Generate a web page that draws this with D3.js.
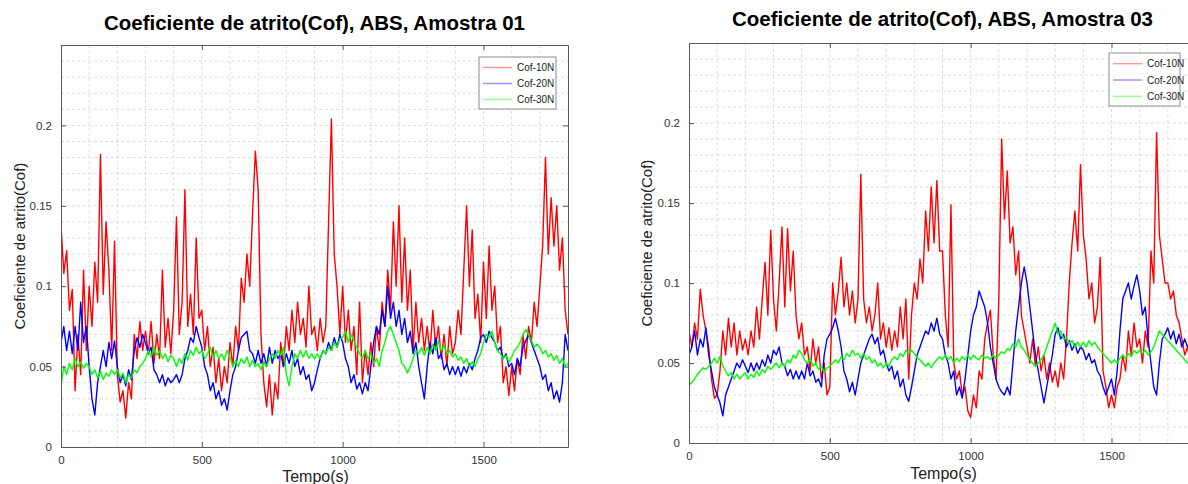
<!DOCTYPE html>
<html>
<head>
<meta charset="utf-8">
<script src="https://cdn.jsdelivr.net/npm/d3@7"></script>
<style>
  html, body { margin: 0; padding: 0; background: #fff; }
  svg { display: block; font-family: "Liberation Sans", Arial, Helvetica, sans-serif; }
</style>
</head>
<body>
<svg id="chart" width="1188" height="484"></svg>
<script>
// ---------------- DATA ----------------
const TIME_STEP = 10;                 // seconds between samples
const X_DOMAIN = [0, 1800];
const Y_DOMAIN = [0, 0.25];
const xTickValues = [0, 500, 1000, 1500];
const yTickValues = [0, 0.05, 0.1, 0.15, 0.2];
const seriesNames = ["Cof-10N", "Cof-20N", "Cof-30N"];
const panelTitles = ["Coeficiente de atrito(Cof), ABS, Amostra 01",
                     "Coeficiente de atrito(Cof), ABS, Amostra 03"];
const xLabel = "Tempo(s)";
const yLabel = "Coeficiente de atrito(Cof)";

// Amostra 01
const s01_10N = [
 0.138,0.108,0.122,0.085,0.098,0.035,0.07,0.045,0.11,0.06,
 0.1,0.075,0.115,0.09,0.182,0.095,0.14,0.11,0.06,0.128,
 0.045,0.028,0.035,0.018,0.04,0.03,0.07,0.055,0.078,0.06,
 0.072,0.058,0.078,0.052,0.07,0.055,0.11,0.062,0.08,0.058,
 0.085,0.143,0.07,0.09,0.16,0.075,0.095,0.07,0.13,0.08,
 0.085,0.06,0.075,0.05,0.062,0.04,0.055,0.035,0.05,0.04,
 0.065,0.05,0.075,0.06,0.105,0.09,0.12,0.1,0.145,0.184,
 0.16,0.07,0.04,0.025,0.045,0.02,0.04,0.03,0.065,0.05,
 0.075,0.06,0.085,0.065,0.09,0.07,0.08,0.062,0.1,0.07,
 0.075,0.06,0.08,0.065,0.075,0.14,0.204,0.12,0.1,0.07,
 0.1,0.065,0.085,0.06,0.075,0.045,0.09,0.04,0.06,0.045,
 0.065,0.05,0.075,0.06,0.09,0.075,0.11,0.085,0.14,0.1,
 0.15,0.09,0.13,0.085,0.11,0.06,0.09,0.065,0.08,0.06,
 0.075,0.058,0.085,0.062,0.075,0.055,0.07,0.05,0.075,0.058,
 0.065,0.085,0.07,0.11,0.15,0.1,0.135,0.08,0.095,0.065,
 0.115,0.08,0.125,0.085,0.1,0.065,0.075,0.04,0.05,0.032,
 0.05,0.035,0.055,0.045,0.07,0.055,0.075,0.065,0.09,0.075,
 0.1,0.125,0.18,0.12,0.155,0.125,0.15,0.11,0.13,0.085,0.07
];
const s01_20N = [
 0.065,0.075,0.06,0.072,0.058,0.075,0.06,0.09,0.065,0.075,
 0.05,0.03,0.02,0.04,0.05,0.06,0.05,0.065,0.055,0.066,
 0.05,0.04,0.045,0.038,0.048,0.042,0.06,0.068,0.062,0.07,
 0.065,0.058,0.062,0.048,0.045,0.04,0.045,0.038,0.043,0.04,
 0.042,0.045,0.04,0.045,0.055,0.06,0.068,0.065,0.075,0.068,
 0.062,0.05,0.045,0.035,0.04,0.03,0.035,0.026,0.03,0.023,
 0.035,0.045,0.05,0.06,0.068,0.07,0.072,0.06,0.058,0.052,
 0.06,0.052,0.058,0.05,0.062,0.052,0.06,0.055,0.058,0.05,
 0.058,0.052,0.06,0.05,0.055,0.045,0.05,0.042,0.045,0.035,
 0.04,0.048,0.055,0.06,0.058,0.065,0.06,0.068,0.062,0.07,
 0.065,0.055,0.05,0.04,0.045,0.036,0.04,0.033,0.04,0.035,
 0.05,0.065,0.075,0.07,0.085,0.075,0.1,0.08,0.09,0.075,
 0.085,0.07,0.08,0.065,0.072,0.058,0.065,0.05,0.04,0.03,
 0.05,0.065,0.058,0.068,0.055,0.058,0.048,0.052,0.045,0.05,
 0.045,0.05,0.044,0.05,0.046,0.052,0.048,0.055,0.06,0.068,
 0.07,0.065,0.072,0.068,0.065,0.06,0.062,0.055,0.058,0.05,
 0.052,0.045,0.055,0.05,0.062,0.066,0.07,0.065,0.06,0.055,
 0.05,0.042,0.045,0.035,0.04,0.03,0.035,0.028,0.04,0.07,0.06
];
const s01_30N = [
 0.038,0.05,0.045,0.052,0.048,0.055,0.05,0.053,0.049,0.052,
 0.05,0.045,0.048,0.043,0.047,0.042,0.046,0.044,0.048,0.045,
 0.048,0.043,0.046,0.04,0.045,0.043,0.048,0.046,0.05,0.052,
 0.055,0.06,0.056,0.062,0.057,0.06,0.055,0.058,0.053,0.057,
 0.055,0.05,0.055,0.052,0.058,0.054,0.06,0.057,0.062,0.058,
 0.06,0.055,0.058,0.062,0.056,0.06,0.055,0.058,0.054,0.06,
 0.056,0.05,0.054,0.05,0.055,0.052,0.056,0.05,0.054,0.05,
 0.052,0.048,0.053,0.05,0.055,0.058,0.055,0.06,0.057,0.062,
 0.045,0.038,0.05,0.058,0.055,0.06,0.056,0.06,0.055,0.058,
 0.055,0.058,0.055,0.06,0.058,0.062,0.06,0.065,0.062,0.067,
 0.068,0.072,0.065,0.07,0.066,0.062,0.058,0.055,0.06,0.055,
 0.058,0.052,0.055,0.05,0.06,0.065,0.072,0.075,0.07,0.065,
 0.06,0.052,0.05,0.046,0.05,0.055,0.06,0.058,0.062,0.057,
 0.062,0.058,0.064,0.06,0.066,0.06,0.063,0.058,0.06,0.056,
 0.058,0.054,0.056,0.052,0.055,0.05,0.053,0.05,0.055,0.058,
 0.065,0.07,0.068,0.072,0.065,0.06,0.058,0.055,0.057,0.053,
 0.056,0.06,0.062,0.065,0.07,0.073,0.07,0.066,0.062,0.064,
 0.062,0.058,0.06,0.056,0.058,0.054,0.057,0.052,0.055,0.05,0.052
];

// Amostra 03
const s03_10N = [
 0.07,0.06,0.075,0.065,0.096,0.08,0.07,0.06,0.04,0.028,
 0.03,0.045,0.07,0.055,0.078,0.06,0.075,0.055,0.07,0.058,
 0.065,0.055,0.07,0.06,0.085,0.065,0.09,0.113,0.08,0.133,
 0.09,0.07,0.1,0.135,0.085,0.134,0.095,0.12,0.08,0.065,
 0.075,0.055,0.06,0.045,0.065,0.05,0.06,0.04,0.05,0.03,
 0.035,0.1,0.08,0.095,0.116,0.085,0.1,0.08,0.095,0.075,
 0.09,0.168,0.09,0.075,0.085,0.07,0.08,0.1,0.065,0.075,
 0.06,0.072,0.058,0.07,0.06,0.085,0.065,0.09,0.04,0.08,
 0.1,0.09,0.115,0.1,0.145,0.12,0.16,0.125,0.164,0.12,
 0.12,0.08,0.06,0.149,0.05,0.04,0.045,0.03,0.035,0.02,
 0.016,0.03,0.022,0.045,0.04,0.065,0.075,0.083,0.055,0.04,
 0.09,0.19,0.14,0.17,0.125,0.135,0.105,0.12,0.08,0.07,
 0.06,0.05,0.065,0.048,0.06,0.045,0.055,0.04,0.05,0.038,
 0.045,0.035,0.05,0.04,0.065,0.1,0.125,0.145,0.12,0.174,
 0.13,0.115,0.09,0.1,0.075,0.085,0.116,0.045,0.035,0.022,
 0.03,0.022,0.035,0.04,0.055,0.045,0.07,0.055,0.075,0.06,
 0.065,0.05,0.07,0.06,0.12,0.1,0.194,0.13,0.115,0.1,
 0.1,0.09,0.095,0.08,0.075,0.065,0.055,0.06,0.05,0.055,0.05
];
const s03_20N = [
 0.055,0.06,0.07,0.055,0.065,0.06,0.072,0.055,0.045,0.035,
 0.03,0.025,0.017,0.03,0.035,0.04,0.045,0.05,0.047,0.052,
 0.048,0.044,0.05,0.045,0.05,0.046,0.052,0.048,0.055,0.05,
 0.058,0.055,0.06,0.05,0.048,0.042,0.046,0.04,0.045,0.04,
 0.045,0.04,0.05,0.042,0.045,0.038,0.04,0.035,0.055,0.065,
 0.068,0.072,0.078,0.07,0.06,0.045,0.04,0.032,0.038,0.03,
 0.04,0.05,0.055,0.06,0.065,0.068,0.062,0.066,0.055,0.058,
 0.05,0.045,0.048,0.04,0.045,0.035,0.04,0.03,0.026,0.035,
 0.045,0.055,0.06,0.065,0.07,0.068,0.075,0.07,0.078,0.068,
 0.065,0.055,0.05,0.04,0.045,0.03,0.035,0.028,0.04,0.055,
 0.07,0.08,0.085,0.095,0.09,0.085,0.075,0.06,0.05,0.04,
 0.035,0.032,0.03,0.035,0.03,0.05,0.07,0.085,0.1,0.11,
 0.1,0.085,0.07,0.055,0.045,0.035,0.025,0.035,0.045,0.055,
 0.068,0.072,0.065,0.068,0.06,0.064,0.058,0.062,0.056,0.06,
 0.058,0.052,0.056,0.05,0.052,0.045,0.042,0.035,0.03,0.035,
 0.04,0.03,0.045,0.07,0.09,0.095,0.1,0.09,0.098,0.105,
 0.095,0.08,0.085,0.065,0.05,0.035,0.03,0.05,0.065,0.068,
 0.072,0.065,0.07,0.062,0.068,0.06,0.065,0.06,0.064,0.06,0.062
];
const s03_30N = [
 0.036,0.038,0.04,0.043,0.045,0.047,0.046,0.048,0.05,0.053,
 0.05,0.054,0.048,0.045,0.042,0.044,0.04,0.043,0.04,0.042,
 0.044,0.04,0.043,0.041,0.045,0.042,0.046,0.044,0.048,0.046,
 0.048,0.05,0.047,0.05,0.048,0.052,0.05,0.055,0.053,0.058,
 0.056,0.052,0.05,0.053,0.048,0.05,0.046,0.048,0.044,0.047,
 0.048,0.05,0.052,0.05,0.054,0.052,0.056,0.054,0.058,0.055,
 0.056,0.053,0.056,0.052,0.054,0.05,0.052,0.048,0.05,0.047,
 0.05,0.048,0.052,0.054,0.052,0.056,0.054,0.058,0.056,0.058,
 0.056,0.053,0.052,0.05,0.048,0.05,0.047,0.05,0.052,0.054,
 0.052,0.055,0.052,0.054,0.05,0.053,0.051,0.054,0.052,0.055,
 0.052,0.055,0.053,0.052,0.055,0.053,0.054,0.052,0.055,0.053,
 0.055,0.057,0.056,0.059,0.058,0.062,0.06,0.065,0.06,0.058,
 0.055,0.052,0.05,0.048,0.05,0.052,0.055,0.06,0.065,0.07,
 0.075,0.068,0.07,0.065,0.066,0.062,0.064,0.06,0.063,0.06,
 0.063,0.06,0.064,0.061,0.063,0.06,0.058,0.056,0.054,0.052,
 0.05,0.052,0.05,0.053,0.055,0.053,0.056,0.054,0.058,0.056,
 0.058,0.056,0.058,0.055,0.057,0.06,0.065,0.07,0.068,0.066,
 0.064,0.062,0.06,0.058,0.056,0.054,0.052,0.05,0.052,0.05,0.05
];

const panels = [
  { title: panelTitles[0], series: [s01_10N, s01_20N, s01_30N] },
  { title: panelTitles[1], series: [s03_10N, s03_20N, s03_30N] }
];

// ---------------- STYLE / LAYOUT ----------------
const seriesColors = ["#ff0000", "#0000ff", "#00ff00"];
const layouts = [
  { left: 61, right: 568, top: 45, bottom: 447, titleY: 30, yLabelX: 19, xLabelY: 482,
    legend: { x: 479, y: 57, w: 77, h: 52 } },
  { left: 689, right: 1196, top: 43, bottom: 443, titleY: 26, yLabelX: 646, xLabelY: 479,
    legend: { x: 1109, y: 53, w: 71, h: 53 } }
];

const svg = d3.select("#chart");

function drawPanel(panel, L, idx) {
  const x = d3.scaleLinear().domain(X_DOMAIN).range([L.left, L.right]);
  const y = d3.scaleLinear().domain(Y_DOMAIN).range([L.bottom, L.top]);
  const g = svg.append("g");

  // grid (every 100 s and every 0.01)
  const gx = d3.range(X_DOMAIN[0] + 100, X_DOMAIN[1], 100);
  const gy = d3.range(1, 25).map(i => i * 0.01);
  const grid = g.append("g").attr("stroke", "#d4d4d4").attr("stroke-width", 0.8)
    .attr("stroke-dasharray", "3,2.5");
  grid.selectAll("line.gx").data(gx).join("line").attr("class", "gx")
    .attr("x1", d => x(d)).attr("x2", d => x(d))
    .attr("y1", L.top).attr("y2", L.bottom);
  grid.selectAll("line.gy").data(gy).join("line").attr("class", "gy")
    .attr("x1", L.left).attr("x2", L.right)
    .attr("y1", d => y(d)).attr("y2", d => y(d));

  // clip
  const clipId = "clip" + idx;
  svg.append("clipPath").attr("id", clipId).append("rect")
    .attr("x", L.left).attr("y", L.top)
    .attr("width", L.right - L.left).attr("height", L.bottom - L.top);

  const line = d3.line().x((d, i) => x(i * TIME_STEP)).y(d => y(d));
  const lines = g.append("g").attr("clip-path", `url(#${clipId})`);
  panel.series.forEach((s, k) => {
    lines.append("path").datum(s)
      .attr("fill", "none")
      .attr("stroke", seriesColors[k])
      .attr("stroke-width", 1.4)
      .attr("stroke-linejoin", "round")
      .attr("d", line);
  });

  // axes
  const fmtY = d => d === 0 ? "0" : String(+d.toFixed(3));
  const fmtX = d => String(d);
  const axB = g.append("g").attr("transform", `translate(0,${L.bottom})`)
    .call(d3.axisBottom(x).tickValues(xTickValues).tickSizeInner(-5).tickSizeOuter(0).tickPadding(9).tickFormat(fmtX));
  const axT = g.append("g").attr("transform", `translate(0,${L.top})`)
    .call(d3.axisTop(x).tickValues(xTickValues).tickSizeInner(-5).tickSizeOuter(0).tickFormat(""));
  const axL = g.append("g").attr("transform", `translate(${L.left},0)`)
    .call(d3.axisLeft(y).tickValues(yTickValues).tickSizeInner(-5).tickSizeOuter(0).tickPadding(9).tickFormat(fmtY));
  const axR = g.append("g").attr("transform", `translate(${L.right},0)`)
    .call(d3.axisRight(y).tickValues(yTickValues).tickSizeInner(-5).tickSizeOuter(0).tickFormat(""));
  [axB, axT, axL, axR].forEach(a => {
    a.select(".domain").attr("stroke", "#5a5a5a").attr("stroke-width", 1);
    a.selectAll(".tick line").attr("stroke", "#5a5a5a");
    a.selectAll(".tick text").attr("fill", "#333").attr("font-size", 11.5)
      .attr("font-family", "'Liberation Sans', Arial, sans-serif");
  });

  // title
  svg.append("text").attr("x", (L.left + L.right) / 2).attr("y", L.titleY)
    .attr("text-anchor", "middle").attr("font-size", 20.5).attr("font-weight", "bold")
    .attr("fill", "#000").text(panel.title);

  // axis labels
  svg.append("text").attr("x", (L.left + L.right) / 2 + 1).attr("y", L.xLabelY)
    .attr("text-anchor", "middle").attr("font-size", 16).attr("fill", "#222").text(xLabel);
  svg.append("text")
    .attr("transform", `translate(${L.yLabelX},${(L.top + L.bottom) / 2}) rotate(-90)`)
    .attr("text-anchor", "middle").attr("dominant-baseline", "central")
    .attr("font-size", 15).attr("fill", "#222").text(yLabel);

  // legend
  const lg = svg.append("g").attr("transform", `translate(${L.legend.x},${L.legend.y})`);
  lg.append("rect").attr("width", L.legend.w).attr("height", L.legend.h)
    .attr("fill", "#fff").attr("stroke", "#8c8c8c").attr("stroke-width", 1);
  const rowH = (L.legend.h - 4) / 3;
  seriesNames.forEach((name, k) => {
    const cy = 2 + rowH * (k + 0.5) + 0.5;
    lg.append("line").attr("x1", 4).attr("x2", 33).attr("y1", cy).attr("y2", cy)
      .attr("stroke", seriesColors[k]).attr("stroke-opacity", 0.4).attr("stroke-width", 1.5);
    lg.append("text").attr("x", 38).attr("y", cy).attr("dominant-baseline", "central")
      .attr("font-size", 10).attr("fill", "#222").text(name);
  });
}

panels.forEach((p, i) => drawPanel(p, layouts[i], i));
</script>
</body>
</html>
